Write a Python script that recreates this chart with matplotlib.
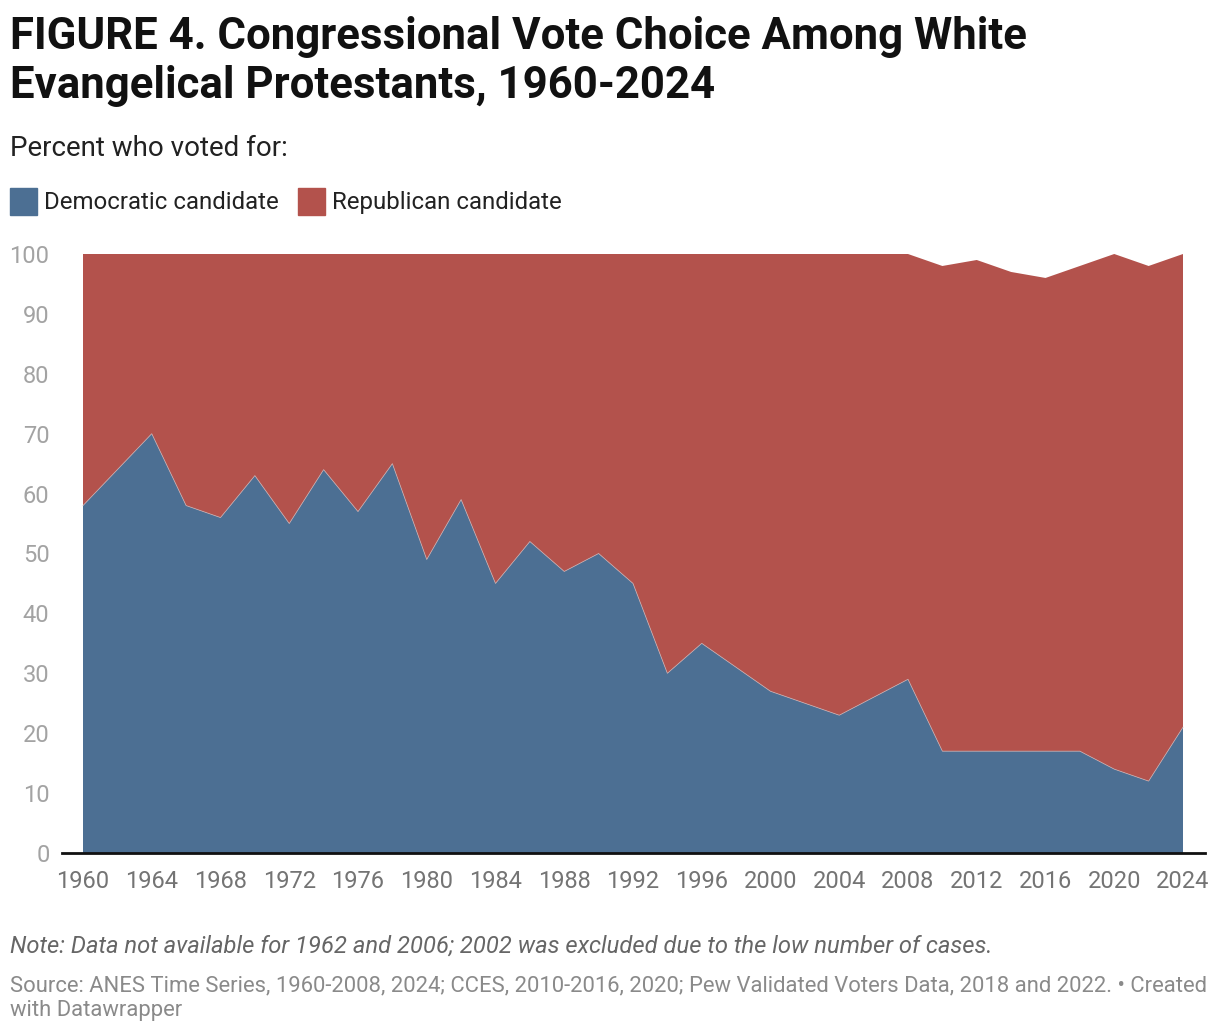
import matplotlib
matplotlib.use("Agg")
import matplotlib.pyplot as plt
from matplotlib.patches import Rectangle

plt.rcParams['font.family'] = ['Roboto', 'DejaVu Sans']

years = [1960, 1964, 1966, 1968, 1970, 1972, 1974, 1976, 1978, 1980, 1982, 1984,
         1986, 1988, 1990, 1992, 1994, 1996, 1998, 2000, 2004, 2008, 2010, 2012,
         2014, 2016, 2018, 2020, 2022, 2024]
democratic = [58, 70, 58, 56, 63, 55, 64, 57, 65, 49, 59, 45,
              52, 47, 50, 45, 30, 35, 31, 27, 23, 29, 17, 17,
              17, 17, 17, 14, 12, 21]
republican = [42, 30, 42, 44, 37, 45, 36, 43, 35, 51, 41, 55,
              48, 53, 50, 55, 70, 65, 69, 73, 77, 71, 81, 82,
              80, 79, 81, 86, 86, 79]
xticks = list(range(1960, 2025, 4))
yticks = list(range(0, 101, 10))

BLUE = '#4c6f93'
RED = '#b3524c'

W, H = 1220, 1034
fig = plt.figure(figsize=(W / 100, H / 100), dpi=100)

ax_left, ax_right = 62 / W, 1205 / W
ax_bottom, ax_top = 1 - 853 / H, 1 - 254 / H
ax = fig.add_axes([ax_left, ax_bottom, ax_right - ax_left, ax_top - ax_bottom])

ax.stackplot(years, democratic, republican, colors=[BLUE, RED], linewidth=0)
ax.plot(years, democratic, color='#c9b3b6', lw=0.6, alpha=0.8)

ppy = 1100 / 64
ax.set_xlim(1960 - 21 / ppy, 2024 + 22 / ppy)
ax.set_ylim(0, 100)

for s in ['top', 'right', 'left']:
    ax.spines[s].set_visible(False)
ax.spines['bottom'].set_color('#111111')
ax.spines['bottom'].set_linewidth(2)
ax.spines['bottom'].set_zorder(5)

ax.set_xticks(xticks)
ax.set_xticklabels([str(t) for t in xticks])
ax.set_yticks(yticks)
ax.set_yticklabels([str(t) for t in yticks])
ax.tick_params(axis='x', length=0, pad=12, labelsize=17, labelcolor='#747474')
ax.tick_params(axis='y', length=0, pad=9, labelsize=17, labelcolor='#a3a3a3')

# Title and subtitle
fig.text(10 / W, 1 - 49 / H, 'FIGURE 4. Congressional Vote Choice Among White',
         fontsize=31.5, fontweight='bold', color='#111111', ha='left', va='baseline')
fig.text(10 / W, 1 - 98 / H, 'Evangelical Protestants, 1960-2024',
         fontsize=31.5, fontweight='bold', color='#111111', ha='left', va='baseline')
fig.text(10 / W, 1 - 156 / H, 'Percent who voted for:',
         fontsize=20, color='#222222', ha='left', va='baseline')

# Legend
for x0, col, label in [(10, BLUE, 'Democratic candidate'), (298, RED, 'Republican candidate')]:
    fig.patches.append(Rectangle((x0 / W, 1 - 215 / H), 27 / W, 27 / H,
                                 transform=fig.transFigure, color=col, figure=fig))
    fig.text((x0 + 34) / W, 1 - 209 / H, label, fontsize=17.3, color='#222222',
             ha='left', va='baseline')

# Notes
fig.text(10 / W, 1 - 953 / H,
         'Note: Data not available for 1962 and 2006; 2002 was excluded due to the low number of cases.',
         fontsize=17.1, style='italic', color='#666666', ha='left', va='baseline')
fig.text(10 / W, 1 - 991 / H,
         'Source: ANES Time Series, 1960-2008, 2024; CCES, 2010-2016, 2020; Pew Validated Voters Data, 2018 and 2022. \u2022 Created',
         fontsize=15.8, color='#8a8a8a', ha='left', va='baseline')
fig.text(10 / W, 1 - 1016 / H, 'with Datawrapper',
         fontsize=15.8, color='#8a8a8a', ha='left', va='baseline')

fig.savefig('out.png', dpi=100)
